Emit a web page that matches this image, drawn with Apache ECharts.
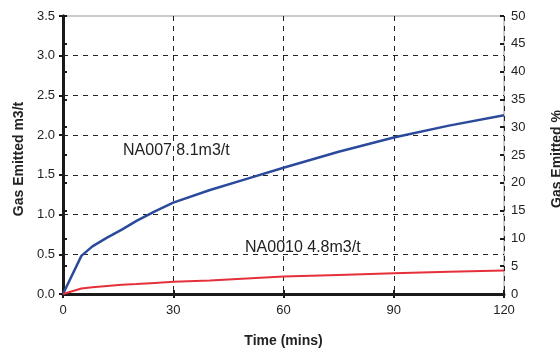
<!DOCTYPE html>
<html><head><meta charset="utf-8">
<script src="https://cdn.jsdelivr.net/npm/echarts@6/dist/echarts.min.js"></script>
<style>html,body{margin:0;padding:0;background:#fff}#c{width:560px;height:352px}</style>
</head><body><div id="c"></div>
<script>
var timeMins = [0, 5, 8, 12, 16, 20, 25, 30, 40, 50, 60, 75, 90, 105, 120];
var na007 = [0, 0.48, 0.60, 0.71, 0.81, 0.92, 1.04, 1.15, 1.31, 1.45, 1.59, 1.79, 1.97, 2.12, 2.25];
var na0010 = [0, 0.07, 0.085, 0.10, 0.115, 0.125, 0.14, 0.155, 0.17, 0.195, 0.22, 0.24, 0.26, 0.28, 0.295];
var hGridValues = [0.5, 1.0, 1.5, 2.0, 2.5, 3.0];
var labelNA007 = 'NA007 8.1m3/t';
var labelNA0010 = 'NA0010 4.8m3/t';

function pairs(xs, ys){ return xs.map(function(x,i){ return [x, ys[i]]; }); }

var font = 'Liberation Sans, Arial, sans-serif';
var chart = echarts.init(document.getElementById('c'));
chart.setOption({
  animation: false,
  textStyle: {fontFamily: font},
  grid: {left: 63, right: 56, top: 16, bottom: 58, outerBoundsMode: 'none', containLabel: false,
    show: true, borderColor: '#999', borderWidth: 1, backgroundColor: 'transparent'},
  xAxis: [{
    type: 'value', min: 0, max: 120, interval: 30,
    name: 'Time (mins)', nameLocation: 'middle', nameGap: 40,
    nameTextStyle: {fontWeight: 'bold', fontSize: 14, color: '#222', fontFamily: font},
    axisLine: {show: true, lineStyle: {color: '#1a1a1a', width: 3}},
    axisTick: {show: true, length: 4, lineStyle: {color: '#1a1a1a', width: 2}},
    axisLabel: {fontSize: 13, color: '#222', margin: 10, fontFamily: font},
    splitLine: {show: true, lineStyle: {color: '#222', type: [5, 5], width: 1}}
  }, {
    type: 'value', min: 0, max: 120, interval: 30, position: 'bottom',
    axisLine: {show: false}, axisLabel: {show: false}, splitLine: {show: false},
    axisTick: {show: true, inside: true, length: 4, lineStyle: {color: '#1a1a1a', width: 2}}
  }],
  yAxis: [{
    type: 'value', min: 0, max: 3.5, interval: 0.5, position: 'left',
    name: 'Gas Emitted m3/t', nameLocation: 'middle', nameGap: 37, nameRotate: 90,
    nameTextStyle: {fontWeight: 'bold', fontSize: 14, color: '#222', fontFamily: font, padding: [0, 8, 0, 0]},
    axisLine: {show: true, lineStyle: {color: '#1a1a1a', width: 3}},
    axisTick: {show: true, length: 4, lineStyle: {color: '#1a1a1a', width: 2}},
    axisLabel: {fontSize: 13, color: '#222', margin: 8, fontFamily: font,
      formatter: function(v){ return v.toFixed(1); }},
    splitLine: {show: false}
  }, {
    type: 'value', min: 0, max: 50, interval: 5, position: 'right',
    name: 'Gas Emitted %', nameLocation: 'middle', nameGap: 46, nameRotate: 90,
    nameTextStyle: {fontWeight: 'bold', fontSize: 14, color: '#222', fontFamily: font, padding: [0, 8, 0, 0]},
    axisLine: {show: true, lineStyle: {color: '#1a1a1a', width: 3}},
    axisTick: {show: true, length: 4, lineStyle: {color: '#1a1a1a', width: 2}},
    axisLabel: {fontSize: 13, color: '#222', margin: 7, fontFamily: font},
    splitLine: {show: false}
  }, {
    type: 'value', min: 0, max: 50, interval: 5, position: 'right',
    axisLine: {show: false}, axisLabel: {show: false}, splitLine: {show: false},
    axisTick: {show: true, inside: true, length: 4, lineStyle: {color: '#1a1a1a', width: 2}}
  }],
  series: [{
    type: 'line', name: 'NA007', data: pairs(timeMins, na007), showSymbol: false, smooth: false,
    lineStyle: {color: '#2b4a9b', width: 2.5}, z: 5,
    markLine: {
      silent: true, symbol: 'none', label: {show: false},
      lineStyle: {color: '#222', type: [5, 5], width: 1},
      data: hGridValues.map(function(v){ return {yAxis: v}; })
    }
  }, {
    type: 'line', name: 'NA0010', data: pairs(timeMins, na0010), showSymbol: false,
    lineStyle: {color: '#e5303c', width: 2}, z: 5
  }],
  graphic: [
    {type: 'text', left: 123, top: 143, style: {text: labelNA007, font: '16px ' + font, fill: '#222'}},
    {type: 'text', left: 245, top: 240, style: {text: labelNA0010, font: '16px ' + font, fill: '#222'}}
  ]
});
</script></body></html>
